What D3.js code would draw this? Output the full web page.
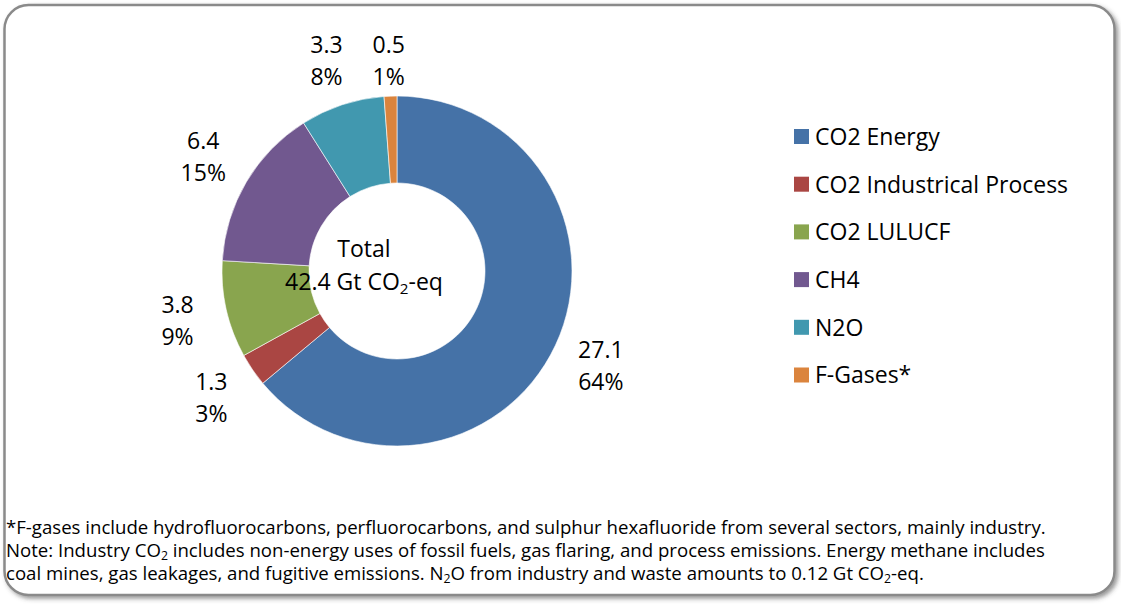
<!DOCTYPE html>
<html><head><meta charset="utf-8">
<script src="https://cdn.jsdelivr.net/npm/d3@7"></script>
<style>body{margin:0;background:#fff;} svg{display:block}</style>
</head><body>
<svg id="chart" width="1121" height="604"></svg>
<script>
// ---- data ----
const categories = ["CO2 Energy", "CO2 Industrical Process", "CO2 LULUCF", "CH4", "N2O", "F-Gases*"];
const values = [27.1, 1.3, 3.8, 6.4, 3.3, 0.5];
const colors = ["#4572A7", "#AA4643", "#89A54E", "#71588F", "#4198AF", "#DB843D"];
const centerTitle = "Total";
const centerUnitParts = [["42.4 Gt CO"], ["2", 1], ["-eq"]];
const footnoteLines = [
  [["*F-gases include hydrofluorocarbons, perfluorocarbons, and sulphur hexafluoride from several sectors, mainly industry."]],
  [["Note: Industry CO"], ["2", 1], [" includes non-energy uses of fossil fuels, gas flaring, and process emissions. Energy methane includes"]],
  [["coal mines, gas leakages, and fugitive emissions. N"], ["2", 1], ["O from industry and waste amounts to 0.12 Gt CO"], ["2", 1], ["-eq."]]
];

// ---- layout ----
const W = 1121, H = 604;
const FONT = "'Open Sans', 'Noto Sans', sans-serif";
const svg = d3.select("#chart").style("font-family", FONT);

const defs = svg.append("defs");
const f = defs.append("filter").attr("id", "shadow").attr("x", "-5%").attr("y", "-5%").attr("width", "110%").attr("height", "110%");
f.append("feDropShadow").attr("dx", 2.5).attr("dy", 2.5).attr("stdDeviation", 2).attr("flood-color", "#444").attr("flood-opacity", 0.55);

svg.append("rect")
  .attr("x", 4.5).attr("y", 5).attr("width", 1110).attr("height", 590)
  .attr("rx", 24).attr("ry", 24)
  .attr("fill", "#fff").attr("stroke", "#8a8a8a").attr("stroke-width", 2.5)
  .attr("filter", "url(#shadow)");

const cx = 397, cy = 271, R = 175, r = 88;
const total = d3.sum(values);
const data = categories.map((c, i) => ({ name: c, value: values[i], color: colors[i] }));
const pie = d3.pie().value(d => d.value).sort(null);
const arcs = pie(data);
const arc = d3.arc().innerRadius(r).outerRadius(R);
const color = d3.scaleOrdinal().domain(categories).range(colors);

const g = svg.append("g").attr("transform", `translate(${cx},${cy})`);
g.selectAll("path.slice").data(arcs).join("path")
  .attr("class", "slice")
  .attr("d", arc)
  .attr("fill", d => color(d.data.name))
  .attr("stroke", "#fff").attr("stroke-width", 0.6);

// data labels (outside, Excel best-fit style)
const fmtPct = d3.format(".0%");
const labelR = 225;
const labelTopLimit = 61 - cy; // keep labels inside plot area
const LFS = 23;
arcs.forEach(d => {
  const a = (d.startAngle + d.endAngle) / 2;
  let lx = labelR * Math.sin(a);
  let ly = Math.max(-labelR * Math.cos(a), labelTopLimit);
  const t = g.append("text").attr("text-anchor", "middle").attr("font-size", LFS).attr("fill", "#000");
  t.append("tspan").attr("x", lx).attr("y", ly - 8).text(d3.format(".1f")(d.data.value));
  t.append("tspan").attr("x", lx).attr("y", ly + 24).text(fmtPct(d.data.value / total));
});

// center text
function addSegments(textSel, parts, fs) {
  let shifted = false;
  parts.forEach(p => {
    const ts = textSel.append("tspan").text(p[0]);
    if (p[1]) {
      ts.attr("font-size", fs * 0.66).attr("dy", fs * 0.18);
      shifted = true;
    } else if (shifted) {
      ts.attr("dy", -fs * 0.18);
      shifted = false;
    }
  });
}
const ctx = cx - 33;
svg.append("text").attr("x", ctx).attr("y", 257).attr("text-anchor", "middle")
  .attr("font-size", LFS).text(centerTitle);
const cu = svg.append("text").attr("x", ctx).attr("y", 290).attr("text-anchor", "middle").attr("font-size", LFS);
addSegments(cu, centerUnitParts, LFS);

// legend
const legY0 = 136.5, legStep = 47.7, legX = 794, sw = 15;
const leg = svg.append("g");
categories.forEach((c, i) => {
  const y = legY0 + i * legStep;
  leg.append("rect").attr("x", legX).attr("y", y - sw / 2).attr("width", sw).attr("height", sw).attr("fill", color(c));
  leg.append("text").attr("x", legX + 21).attr("y", y + 8.3).attr("font-size", LFS).attr("fill", "#000").text(c);
});

// footnotes
const fx = 6, fy0 = 534, fstep = 23;
let ffs = 18;
function drawFoot(fs) {
  svg.selectAll("text.foot").remove();
  const nodes = [];
  footnoteLines.forEach((line, i) => {
    const t = svg.append("text").attr("class", "foot").attr("x", fx).attr("y", fy0 + i * fstep)
      .attr("font-size", fs).attr("fill", "#000");
    addSegments(t, line, fs);
    nodes.push(t.node());
  });
  return nodes;
}
let fn = drawFoot(ffs);
const w0 = fn[0].getComputedTextLength();
ffs = ffs * (1040 / w0);
drawFoot(ffs);
</script>
</body></html>
